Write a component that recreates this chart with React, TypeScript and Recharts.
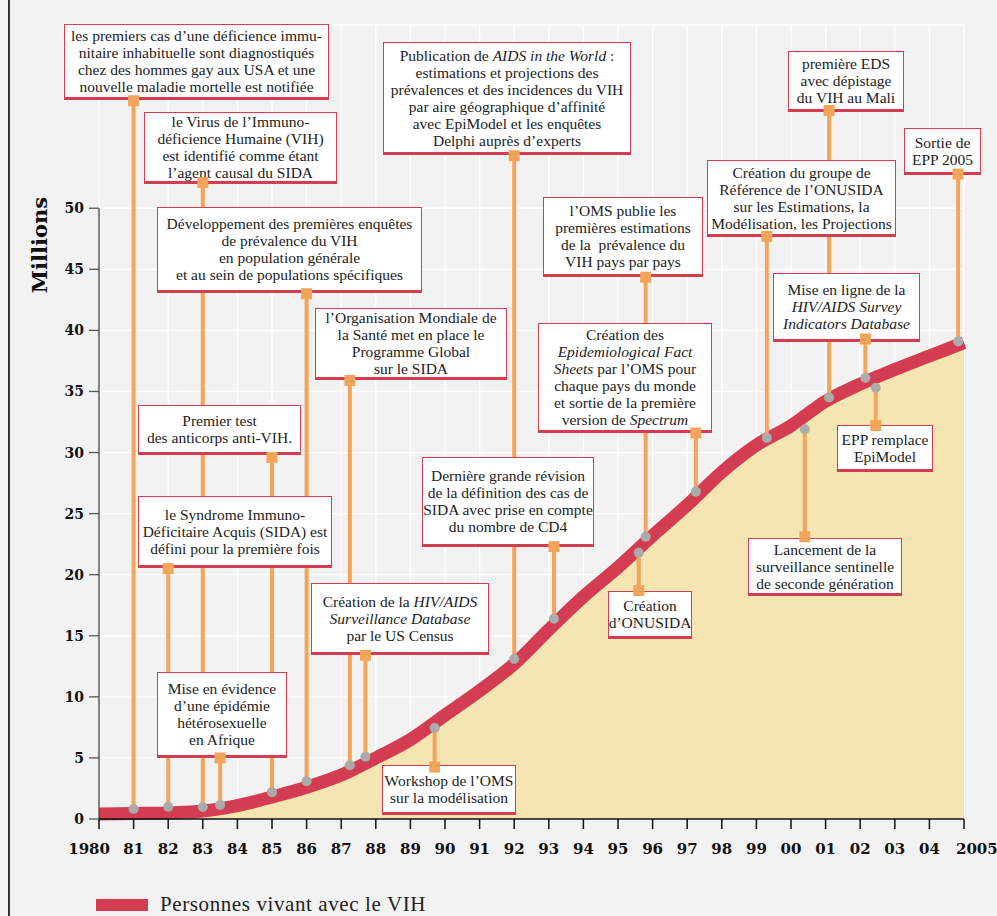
import React from 'react';
import {
  Area,
  CartesianGrid,
  ComposedChart,
  Line,
  Scatter,
  XAxis,
  YAxis,
} from 'recharts';

// people living with HIV, millions, one value per year
const years = [
  1980, 1981, 1982, 1983, 1984, 1985, 1986, 1987, 1988, 1989, 1990, 1991, 1992,
  1993, 1994, 1995, 1996, 1997, 1998, 1999, 2000, 2001, 2002, 2003, 2004, 2005,
];
const peopleLiving = [
  0.4, 0.45, 0.5, 0.65, 1.1, 1.8, 2.6, 3.6, 5.0, 6.5, 8.5, 10.5, 12.7, 15.5,
  18.2, 20.6, 23.2, 25.7, 28.4, 30.6, 32.2, 34.2, 35.6, 36.8, 37.9, 39.0,
];
const yTicks = [0, 5, 10, 15, 20, 25, 30, 35, 40, 45, 50];

// milestones: year, value of the grey dot, value of the orange anchor square
const eventYears = [
  1981, 1983, 1992, 2001.1, 2004.83, 1999.3, 1986, 1995.8, 1987.25, 1985, 1982,
  1983.5, 1987.7, 1989.7, 1993.15, 1997.25, 1995.6, 2002.15, 2002.45, 2000.4,
];
const eventDotValues = [
  0.82, 0.98, 13.1, 34.5, 39.1, 31.2, 3.1, 23.1, 4.4, 2.2, 1.0, 1.15, 5.1, 7.45,
  16.4, 26.8, 21.8, 36.1, 35.3, 31.9,
];
const eventAnchorValues = [
  58.8, 52.1, 54.3, 58.0, 52.8, 47.7, 43.0, 44.35, 35.9, 29.6, 20.5, 5.0, 13.4,
  4.25, 22.3, 31.6, 18.7, 39.3, 32.2, 23.1,
];
const eventLabels = [
  ['les premiers cas d’une déficience immu-', 'nitaire inhabituelle sont diagnostiqués', 'chez des hommes gay aux USA et une', 'nouvelle maladie mortelle est notifiée'],
  ['le Virus de l’Immuno-', 'déficience Humaine (VIH)', 'est identifié comme étant', 'l’agent causal du SIDA'],
  ['Publication de *AIDS in the World* :', 'estimations et projections des', 'prévalences et des incidences du VIH', 'par aire géographique d’affinité', 'avec EpiModel et les enquêtes', 'Delphi auprès d’experts'],
  ['première EDS', 'avec dépistage', 'du VIH au Mali'],
  ['Sortie de', 'EPP 2005'],
  ['Création du groupe de', 'Référence de l’ONUSIDA', 'sur les Estimations, la', 'Modélisation, les Projections'],
  ['Développement des premières enquêtes', 'de prévalence du VIH', 'en population générale', 'et au sein de populations spécifiques'],
  ['l’OMS publie les', 'premières estimations', 'de la  prévalence du', 'VIH pays par pays'],
  ['l’Organisation Mondiale de', 'la Santé met en place le', 'Programme Global', 'sur le SIDA'],
  ['Premier test', 'des anticorps anti-VIH.'],
  ['le Syndrome Immuno-', 'Déficitaire Acquis (SIDA) est', 'défini pour la première fois'],
  ['Mise en évidence', 'd’une épidémie', 'hétérosexuelle', 'en Afrique'],
  ['Création de la *HIV/AIDS*', '*Surveillance Database*', 'par le US Census'],
  ['Workshop de l’OMS', 'sur la modélisation'],
  ['Dernière grande révision', 'de la définition des cas de', 'SIDA avec prise en compte', 'du nombre de CD4'],
  ['Création des', '*Epidemiological Fact*', '*Sheets* par l’OMS pour', 'chaque pays du monde', 'et sortie de la première', 'version de *Spectrum*'],
  ['Création', 'd’ONUSIDA'],
  ['Mise en ligne de la', '*HIV/AIDS Survey*', '*Indicators Database*'],
  ['EPP remplace', 'EpiModel'],
  ['Lancement de la', 'surveillance sentinelle', 'de seconde génération'],
];

// box placement on the page: left, top, width, height (px)
const boxLayout = [
  [64, 24, 265, 76], [144, 112, 193, 72], [383, 42, 248, 113], [788, 51, 116, 61],
  [904, 128, 77, 47], [707, 160, 189, 77], [157, 207, 265, 86], [543, 197, 160, 80],
  [315, 308, 192, 72], [138, 405, 163, 50], [138, 496, 194, 72], [157, 672, 130, 86],
  [311, 583, 178, 72], [382, 765, 134, 50], [422, 457, 172, 90], [538, 323, 174, 110],
  [608, 591, 84, 48], [773, 273, 147, 69], [837, 425, 96, 47], [748, 538, 154, 58],
];

const data = years.map((year, i) => ({ year, value: peopleLiving[i] }));
const events = eventYears.map((year, i) => ({
  year,
  dot: eventDotValues[i],
  anchor: eventAnchorValues[i],
}));
// one path, broken by nulls, for all connectors
const connectors = events.flatMap((e) => [
  { year: e.year, v: e.dot },
  { year: e.year, v: e.anchor },
  { year: e.year, v: null },
]);
const yAxisLine = [
  { year: 1980, v: 0 },
  { year: 1980, v: 50 },
];

const RED = '#d43d51';
const YELLOW = '#f4e5b2';
const ORANGE = '#f5a55b';
const GREY_DOT = '#ababab';
const BG = '#f2f2f2';
const W = 997;
const H = 916;
const MARGIN = { top: 25, right: 33, bottom: 97, left: 99 };

const renderLine = (line: string) =>
  line.split('*').map((part, i) =>
    i % 2 === 1 ? <i key={i}>{part}</i> : <React.Fragment key={i}>{part}</React.Fragment>,
  );

const XTick = ({ x, y, payload }: any) => {
  const v = payload.value as number;
  const full = v === 1980 || v === 2005;
  const anchor = v === 1980 ? 'end' : v === 2005 ? 'start' : 'middle';
  const dx = v === 1980 ? 11 : v === 2005 ? -8 : 0;
  return (
    <text
      x={x + dx}
      y={y}
      dy="0.71em"
      textAnchor={anchor}
      fontFamily="DejaVu Serif"
      fontWeight="bold"
      fontSize={15}
      fill="#111"
    >
      {full ? String(v) : String(v).slice(2)}
    </text>
  );
};

const Square = (props: any) => (
  <rect x={props.cx - 5.5} y={props.cy - 5.5} width={11} height={11} fill={ORANGE} />
);
const GreyDot = (props: any) => <circle cx={props.cx} cy={props.cy} r={5} fill={GREY_DOT} />;

const layer: React.CSSProperties = { position: 'absolute', left: 0, top: 0 };

export default function App() {
  return (
    <div style={{ position: 'absolute', left: 0, top: 0, width: W, height: H, background: BG, overflow: 'hidden' }}>
      <div style={{ position: 'absolute', left: 8, top: 0, width: 2, height: H, background: '#333' }} />

      {/* base: grid, area, red line, axes */}
      <div style={layer}>
        <ComposedChart width={W} height={H} data={data} margin={{ top: MARGIN.top, right: MARGIN.right, bottom: 0, left: 0 }}>
          <CartesianGrid stroke="#ffffff" strokeWidth={1.3} />
          <XAxis
            dataKey="year"
            type="number"
            domain={[1980, 2005]}
            ticks={years}
            interval={0}
            height={MARGIN.bottom}
            tickSize={10}
            tickMargin={14}
            tick={<XTick />}
            axisLine={{ stroke: '#111', strokeWidth: 1.5 }}
            tickLine={{ stroke: '#111', strokeWidth: 1.5 }}
          />
          <YAxis
            type="number"
            domain={[0, 65]}
            ticks={yTicks}
            interval={0}
            width={MARGIN.left}
            tickSize={10}
            tickMargin={5}
            axisLine={false}
            tickLine={{ stroke: '#555', strokeWidth: 1.3 }}
            tick={{ fontFamily: 'DejaVu Serif', fontWeight: 'bold', fontSize: 14, fill: '#111' }}
          />
          <Area
            dataKey="value"
            type="monotone"
            fill={YELLOW}
            fillOpacity={1}
            stroke="none"
            isAnimationActive={false}
          />
          <Line
            dataKey="value"
            type="monotone"
            stroke={RED}
            strokeWidth={13}
            dot={false}
            isAnimationActive={false}
          />
          <Line
            data={yAxisLine}
            dataKey="v"
            type="linear"
            stroke="#444"
            strokeWidth={1.3}
            dot={false}
            isAnimationActive={false}
          />
        </ComposedChart>
      </div>

      {/* orange connectors, under the boxes */}
      <div style={layer}>
        <ComposedChart width={W} height={H} margin={MARGIN}>
          <XAxis dataKey="year" type="number" domain={[1980, 2005]} hide />
          <YAxis type="number" domain={[0, 65]} hide />
          <Line
            data={connectors}
            dataKey="v"
            type="linear"
            stroke={ORANGE}
            strokeWidth={4}
            dot={false}
            connectNulls={false}
            isAnimationActive={false}
          />
        </ComposedChart>
      </div>

      {/* annotation boxes */}
      {eventLabels.map((lines, i) => {
        const [left, top, width, height] = boxLayout[i];
        return (
          <div
            key={i}
            style={{
              position: 'absolute',
              left,
              top,
              width,
              height,
              boxSizing: 'border-box',
              background: '#fff',
              border: `1.5px solid ${RED}`,
              borderBottomWidth: 3,
              display: 'flex',
              flexDirection: 'column',
              justifyContent: 'center',
              alignItems: 'center',
              fontFamily: '"Liberation Serif", serif',
              fontSize: 15.5,
              lineHeight: '17px',
              color: '#222',
              textAlign: 'center',
              whiteSpace: 'pre',
            }}
          >
            {lines.map((l, j) => (
              <div key={j}>{renderLine(l)}</div>
            ))}
          </div>
        );
      })}

      {/* grey dots on the curve and orange anchor squares */}
      <div style={layer}>
        <ComposedChart width={W} height={H} margin={MARGIN}>
          <XAxis dataKey="year" type="number" domain={[1980, 2005]} hide />
          <YAxis type="number" domain={[0, 65]} hide />
          <Scatter data={events} dataKey="dot" shape={<GreyDot />} isAnimationActive={false} />
          <Scatter data={events} dataKey="anchor" shape={<Square />} isAnimationActive={false} />
        </ComposedChart>
      </div>

      <div
        style={{
          position: 'absolute',
          left: 14,
          top: 245,
          width: 50,
          transform: 'translate(-0px, -50%) rotate(-90deg)',
          transformOrigin: 'center',
          fontFamily: '"DejaVu Serif", serif',
          fontWeight: 'bold',
          fontSize: 21,
          color: '#111',
          textAlign: 'center',
          whiteSpace: 'nowrap',
          display: 'flex',
          justifyContent: 'center',
        }}
      >
        Millions
      </div>

      <div style={{ position: 'absolute', left: 96, top: 899, width: 52, height: 12, background: RED }} />
      <div
        style={{
          position: 'absolute',
          left: 160,
          top: 893,
          fontFamily: '"Liberation Serif", serif',
          fontSize: 21,
          lineHeight: '22px',
          letterSpacing: 0.6,
          color: '#222',
          whiteSpace: 'nowrap',
        }}
      >
        Personnes vivant avec le VIH
      </div>
    </div>
  );
}
